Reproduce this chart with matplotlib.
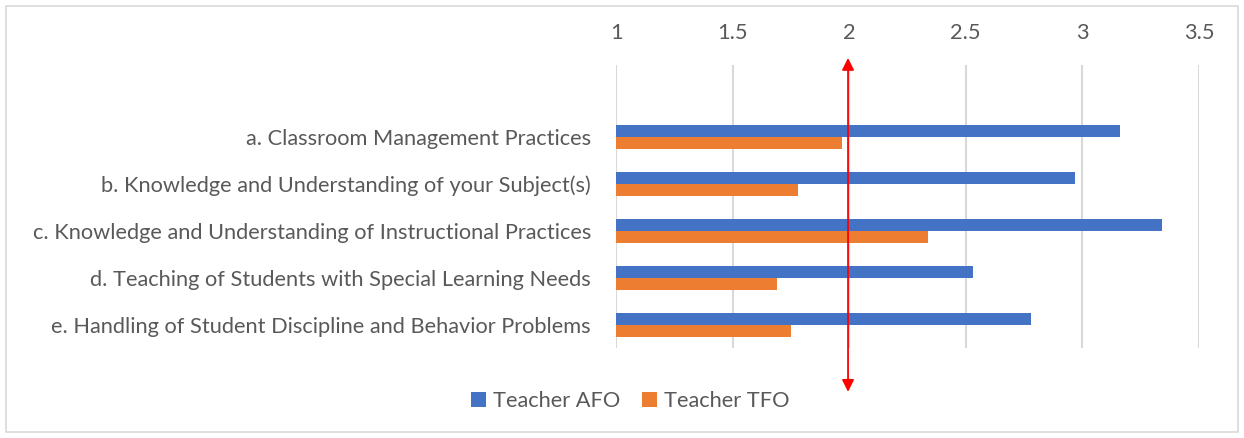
import numpy as np
import matplotlib.pyplot as plt
from matplotlib.patches import Rectangle

categories = [
    "a. Classroom Management Practices",
    "b. Knowledge and Understanding of your Subject(s)",
    "c. Knowledge and Understanding of Instructional Practices",
    "d. Teaching of Students with Special Learning Needs",
    "e. Handling of Student Discipline and Behavior Problems",
]
afo = [3.16, 2.97, 3.34, 2.53, 2.78]
tfo = [1.97, 1.78, 2.34, 1.69, 1.75]
xticks = [1, 1.5, 2, 2.5, 3, 3.5]

plt.rcParams['font.family'] = ['Lato', 'DejaVu Sans']
fs = 15.7

W, H = 1244, 438
fig = plt.figure(figsize=(W / 100, H / 100), dpi=100)
ax = fig.add_axes([616 / W, 1 - 348 / H, (1199 - 616) / W, (348 - 65) / H])

y = np.arange(len(categories))
bh = 12 / 47
ax.barh(y - bh / 2, afo, height=bh, left=0, color="#4472C4", label="Teacher AFO", zorder=3)
ax.barh(y + bh / 2, tfo, height=bh, left=0, color="#ED7D31", label="Teacher TFO", zorder=3)

ax.set_xlim(1, 3.5)
ax.set_ylim(4 + 23 / 47, -72 / 47)
ax.set_xticks(xticks)
ax.set_xticklabels([f"{t:g}" for t in xticks])
ax.set_yticks(y)
ax.set_yticklabels(categories)
ax.xaxis.tick_top()
ax.tick_params(axis="x", length=0, pad=16, labelsize=fs, labelcolor="#595959")
ax.tick_params(axis="y", length=0, pad=18, labelsize=fs, labelcolor="#595959")
for s in ax.spines.values():
    s.set_visible(False)
ax.grid(axis="x", color="#d9d9d9", linewidth=1.5, zorder=0)

# red double arrow at x = 2
ax.annotate("", xy=(1.995, 1.025), xytext=(1.995, -0.155),
            xycoords=("data", "axes fraction"), textcoords=("data", "axes fraction"),
            arrowprops=dict(arrowstyle="<|-|>", color="red", lw=1.3,
                            mutation_scale=18, shrinkA=0, shrinkB=0),
            annotation_clip=False, zorder=5)

fig.legend(loc="center", bbox_to_anchor=(630 / W, 1 - 401 / H), ncol=2, frameon=False,
           fontsize=fs, labelcolor="#595959", handlelength=0.7, handleheight=0.7,
           handletextpad=0.3, columnspacing=1.0)

fig.patches.append(Rectangle((6 / W, 6 / H), (W - 12) / W, (H - 12) / H,
                             transform=fig.transFigure, fill=False,
                             edgecolor="#d9d9d9", linewidth=1.2))

fig.savefig("out.png", dpi=100)
